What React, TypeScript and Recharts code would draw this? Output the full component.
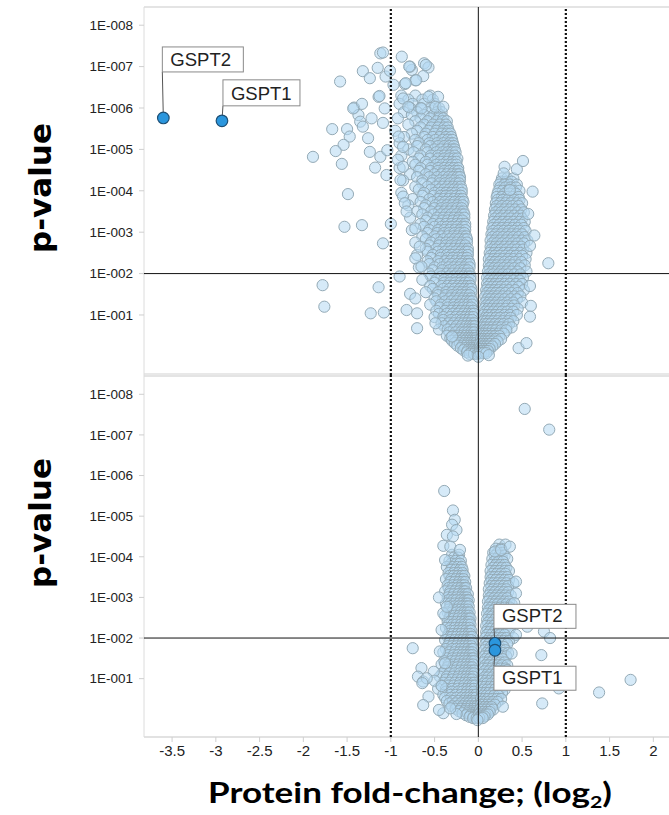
import React from 'react';
import { ScatterChart, Scatter, XAxis, YAxis, ReferenceLine } from 'recharts';

// Values: x = protein fold-change (log2), y = -log10(p-value)
type Row = [number, number[]]; // [-log10 p, fold-change values at that height]
type Pair = [number, number]; // [fold-change, -log10 p]

const X_TICKS = [-3.5, -3, -2.5, -2, -1.5, -1, -0.5, 0, 0.5, 1, 1.5, 2];
const Y_TICKS = [8, 7, 6, 5, 4, 3, 2, 1];
const Y_TICK_LABELS = ['1E-008', '1E-007', '1E-006', '1E-005', '1E-004', '1E-003', '1E-002', '1E-001'];
const FOLD_CUTOFFS = [-1, 1];
const ZERO_FOLD = 0;
const P_CUTOFF = 2; // p = 1E-002

const X_DOMAIN: [number, number] = [-3.821, 2.179];
const TOP_Y_DOMAIN: [number, number] = [-0.45, 8.44];
const BOTTOM_Y_DOMAIN: [number, number] = [-0.436, 8.475];

// ---------- top panel ----------
const TOP_LEFT_ARM: Row[] = [
  [6.3, [-0.88, -0.72, -0.55]],
  [6.2, [-0.8, -0.64, -0.52]],
  [6.1, [-0.9, -0.75, -0.62, -0.5]],
  [6.0, [-0.78, -0.66, -0.54, -0.45]],
  [5.9, [-0.85, -0.7, -0.58, -0.47, -0.42]],
  [5.83, [-0.76, -0.62, -0.51, -0.44]],
  [5.75, [-0.92, -0.66, -0.55, -0.45, -0.4]],
  [5.68, [-0.72, -0.58, -0.48, -0.41, -0.36]],
  [5.6, [-0.8, -0.62, -0.52, -0.44, -0.37]],
  [5.53, [-0.66, -0.54, -0.46, -0.39, -0.35]],
  [5.45, [-0.95, -0.7, -0.57, -0.48, -0.4, -0.34]],
  [5.38, [-0.76, -0.6, -0.5, -0.42, -0.36, -0.32]],
  [5.3, [-0.85, -0.62, -0.52, -0.44, -0.37, -0.31]],
  [5.23, [-0.72, -0.58, -0.49, -0.41, -0.35, -0.3]],
  [5.15, [-0.9, -0.68, -0.56, -0.47, -0.4, -0.33, -0.29]],
  [5.08, [-0.7, -0.55, -0.46, -0.39, -0.33, -0.28]],
  [5.0, [-0.8, -0.6, -0.5, -0.43, -0.36, -0.3, -0.27]],
  [4.93, [-0.74, -0.58, -0.48, -0.41, -0.35, -0.3, -0.26]],
  [4.85, [-0.88, -0.66, -0.54, -0.46, -0.39, -0.33, -0.27]],
  [4.78, [-0.68, -0.55, -0.46, -0.39, -0.33, -0.28, -0.24]],
  [4.7, [-0.75, -0.6, -0.5, -0.43, -0.36, -0.3, -0.25]],
  [4.63, [-0.72, -0.58, -0.48, -0.41, -0.35, -0.3, -0.25]],
  [4.55, [-0.9, -0.66, -0.54, -0.46, -0.39, -0.33, -0.28, -0.23]],
  [4.48, [-0.68, -0.55, -0.46, -0.39, -0.33, -0.27, -0.23]],
  [4.4, [-0.78, -0.6, -0.5, -0.42, -0.36, -0.3, -0.25, -0.22]],
  [4.33, [-0.7, -0.56, -0.47, -0.4, -0.34, -0.29, -0.24, -0.21]],
  [4.25, [-0.86, -0.64, -0.52, -0.44, -0.38, -0.32, -0.27, -0.21]],
  [4.18, [-0.64, -0.53, -0.44, -0.38, -0.32, -0.26, -0.22]],
  [4.1, [-0.72, -0.58, -0.48, -0.41, -0.35, -0.29, -0.24, -0.2]],
  [4.03, [-0.68, -0.54, -0.45, -0.39, -0.33, -0.28, -0.23, -0.19]],
  [3.95, [-0.88, -0.62, -0.5, -0.43, -0.37, -0.31, -0.26, -0.19]],
  [3.88, [-0.64, -0.51, -0.43, -0.37, -0.31, -0.25, -0.2]],
  [3.8, [-0.75, -0.56, -0.46, -0.4, -0.34, -0.28, -0.22, -0.18]],
  [3.73, [-0.66, -0.52, -0.44, -0.38, -0.32, -0.27, -0.21, -0.17]],
  [3.65, [-0.8, -0.6, -0.49, -0.42, -0.36, -0.3, -0.24, -0.18]],
  [3.58, [-0.62, -0.5, -0.42, -0.36, -0.3, -0.24, -0.19]],
  [3.5, [-0.7, -0.54, -0.45, -0.39, -0.33, -0.27, -0.21, -0.17]],
  [3.43, [-0.64, -0.51, -0.43, -0.37, -0.31, -0.25, -0.19, -0.16]],
  [3.35, [-0.78, -0.58, -0.47, -0.4, -0.34, -0.28, -0.22, -0.16]],
  [3.28, [-0.6, -0.49, -0.41, -0.35, -0.29, -0.23, -0.18]],
  [3.2, [-0.66, -0.52, -0.44, -0.37, -0.31, -0.25, -0.2, -0.15]],
  [3.13, [-0.62, -0.5, -0.42, -0.36, -0.3, -0.24, -0.18, -0.15]],
  [3.05, [-0.76, -0.56, -0.46, -0.39, -0.33, -0.27, -0.21, -0.15]],
  [2.98, [-0.58, -0.47, -0.39, -0.33, -0.27, -0.21, -0.16]],
  [2.9, [-0.64, -0.5, -0.42, -0.35, -0.29, -0.24, -0.18, -0.14]],
  [2.83, [-0.6, -0.48, -0.4, -0.33, -0.27, -0.22, -0.16, -0.13]],
  [2.75, [-0.72, -0.54, -0.44, -0.37, -0.31, -0.25, -0.19, -0.13]],
  [2.68, [-0.56, -0.45, -0.37, -0.31, -0.25, -0.2, -0.15]],
  [2.6, [-0.6, -0.48, -0.4, -0.34, -0.28, -0.22, -0.17, -0.12]],
  [2.53, [-0.58, -0.46, -0.38, -0.32, -0.26, -0.2, -0.15, -0.12]],
  [2.45, [-0.7, -0.52, -0.43, -0.36, -0.3, -0.24, -0.18, -0.12]],
  [2.38, [-0.54, -0.43, -0.35, -0.29, -0.23, -0.18, -0.13]],
  [2.3, [-0.58, -0.46, -0.38, -0.32, -0.26, -0.2, -0.15, -0.11]],
  [2.23, [-0.56, -0.44, -0.36, -0.3, -0.24, -0.19, -0.13, -0.1]],
  [2.15, [-0.68, -0.5, -0.41, -0.34, -0.28, -0.22, -0.16, -0.1]],
  [2.08, [-0.52, -0.41, -0.33, -0.27, -0.21, -0.16, -0.12]],
  [2.0, [-0.56, -0.44, -0.36, -0.3, -0.24, -0.19, -0.14, -0.1]],
  [1.93, [-0.54, -0.42, -0.34, -0.28, -0.22, -0.17, -0.12, -0.09]],
  [1.85, [-0.64, -0.48, -0.39, -0.32, -0.26, -0.2, -0.15, -0.09]],
  [1.78, [-0.5, -0.39, -0.32, -0.26, -0.2, -0.15, -0.11]],
  [1.7, [-0.55, -0.42, -0.35, -0.29, -0.23, -0.18, -0.13, -0.09]],
  [1.63, [-0.52, -0.4, -0.33, -0.27, -0.21, -0.16, -0.11, -0.08]],
  [1.55, [-0.6, -0.46, -0.37, -0.3, -0.24, -0.19, -0.14, -0.08]],
  [1.48, [-0.46, -0.37, -0.3, -0.24, -0.19, -0.14, -0.1]],
  [1.4, [-0.5, -0.4, -0.33, -0.27, -0.22, -0.17, -0.12, -0.08]],
  [1.33, [-0.48, -0.38, -0.31, -0.25, -0.19, -0.14, -0.1, -0.07]],
  [1.25, [-0.55, -0.43, -0.35, -0.28, -0.22, -0.17, -0.12, -0.07]],
  [1.18, [-0.44, -0.35, -0.28, -0.22, -0.17, -0.12, -0.08]],
  [1.1, [-0.48, -0.38, -0.31, -0.25, -0.2, -0.15, -0.1, -0.06]],
  [1.03, [-0.45, -0.36, -0.29, -0.23, -0.17, -0.12, -0.08, -0.05]],
  [0.95, [-0.5, -0.4, -0.32, -0.26, -0.2, -0.15, -0.1, -0.06]],
  [0.88, [-0.4, -0.31, -0.25, -0.19, -0.15, -0.11, -0.07]],
  [0.8, [-0.42, -0.34, -0.28, -0.22, -0.17, -0.13, -0.09, -0.05]],
  [0.73, [-0.39, -0.31, -0.25, -0.19, -0.14, -0.1, -0.07, -0.04]],
  [0.65, [-0.45, -0.35, -0.28, -0.22, -0.17, -0.12, -0.08, -0.05]],
  [0.58, [-0.33, -0.26, -0.2, -0.16, -0.12, -0.08, -0.05]],
  [0.5, [-0.36, -0.29, -0.23, -0.18, -0.14, -0.1, -0.07, -0.04]],
  [0.44, [-0.32, -0.26, -0.21, -0.16, -0.12, -0.09, -0.06, -0.03]],
  [0.38, [-0.3, -0.24, -0.19, -0.15, -0.11, -0.08, -0.05, -0.03]],
  [0.32, [-0.27, -0.21, -0.16, -0.12, -0.09, -0.06, -0.03]],
  [0.26, [-0.24, -0.18, -0.14, -0.1, -0.07, -0.04, -0.02]],
  [0.2, [-0.2, -0.15, -0.1, -0.07, -0.04, -0.01]],
  [0.15, [-0.17, -0.12, -0.08, -0.05, -0.02]],
  [0.1, [-0.13, -0.08, -0.04, -0.01]],
  [0.06, [-0.1, -0.05, -0.01]],
];

const TOP_RIGHT_ARM: Row[] = [
  [4.3, [0.27, 0.33, 0.4]],
  [4.22, [0.26, 0.32, 0.38]],
  [4.15, [0.24, 0.3, 0.36, 0.44]],
  [4.08, [0.25, 0.31, 0.37, 0.43]],
  [4.0, [0.23, 0.28, 0.34, 0.4, 0.47]],
  [3.93, [0.22, 0.3, 0.36, 0.43]],
  [3.85, [0.21, 0.27, 0.33, 0.39, 0.46]],
  [3.78, [0.22, 0.28, 0.34, 0.41, 0.47]],
  [3.7, [0.2, 0.25, 0.31, 0.37, 0.44, 0.5]],
  [3.63, [0.21, 0.27, 0.33, 0.39, 0.46]],
  [3.55, [0.19, 0.24, 0.3, 0.36, 0.42, 0.49]],
  [3.48, [0.2, 0.26, 0.32, 0.38, 0.45, 0.52]],
  [3.4, [0.18, 0.23, 0.29, 0.35, 0.41, 0.48]],
  [3.33, [0.19, 0.25, 0.31, 0.37, 0.44, 0.5]],
  [3.25, [0.17, 0.22, 0.28, 0.34, 0.4, 0.47, 0.53]],
  [3.18, [0.18, 0.24, 0.3, 0.36, 0.42, 0.49]],
  [3.1, [0.16, 0.21, 0.27, 0.33, 0.39, 0.45, 0.52]],
  [3.03, [0.17, 0.23, 0.29, 0.35, 0.41, 0.47, 0.54]],
  [2.95, [0.15, 0.2, 0.26, 0.32, 0.38, 0.44, 0.5]],
  [2.88, [0.16, 0.22, 0.28, 0.34, 0.4, 0.46, 0.53]],
  [2.8, [0.14, 0.19, 0.25, 0.31, 0.37, 0.43, 0.5, 0.56]],
  [2.73, [0.16, 0.21, 0.27, 0.33, 0.39, 0.45, 0.52]],
  [2.65, [0.14, 0.19, 0.24, 0.3, 0.36, 0.42, 0.49]],
  [2.58, [0.15, 0.2, 0.26, 0.32, 0.38, 0.44, 0.51]],
  [2.5, [0.13, 0.18, 0.23, 0.29, 0.35, 0.41, 0.48, 0.55]],
  [2.43, [0.14, 0.19, 0.25, 0.31, 0.37, 0.43, 0.5]],
  [2.35, [0.12, 0.17, 0.22, 0.28, 0.34, 0.4, 0.47, 0.54]],
  [2.28, [0.14, 0.19, 0.24, 0.3, 0.36, 0.42, 0.49]],
  [2.2, [0.12, 0.16, 0.21, 0.27, 0.33, 0.39, 0.46, 0.53]],
  [2.13, [0.13, 0.18, 0.23, 0.29, 0.35, 0.41, 0.48]],
  [2.05, [0.11, 0.16, 0.21, 0.26, 0.32, 0.38, 0.45, 0.55]],
  [1.98, [0.12, 0.17, 0.23, 0.28, 0.34, 0.41, 0.48]],
  [1.9, [0.1, 0.15, 0.2, 0.25, 0.31, 0.37, 0.44, 0.51]],
  [1.83, [0.12, 0.17, 0.22, 0.27, 0.33, 0.4, 0.47]],
  [1.75, [0.1, 0.14, 0.19, 0.24, 0.3, 0.36, 0.43, 0.5]],
  [1.68, [0.11, 0.16, 0.21, 0.26, 0.32, 0.39, 0.46]],
  [1.6, [0.09, 0.13, 0.18, 0.23, 0.29, 0.35, 0.42, 0.52]],
  [1.53, [0.1, 0.15, 0.2, 0.25, 0.31, 0.38, 0.45]],
  [1.45, [0.08, 0.12, 0.17, 0.22, 0.28, 0.34, 0.41, 0.48]],
  [1.38, [0.1, 0.14, 0.19, 0.24, 0.3, 0.37, 0.44]],
  [1.3, [0.08, 0.12, 0.16, 0.21, 0.27, 0.33, 0.4, 0.5]],
  [1.23, [0.09, 0.13, 0.18, 0.23, 0.28, 0.34, 0.41]],
  [1.15, [0.07, 0.11, 0.15, 0.2, 0.25, 0.31, 0.38, 0.45]],
  [1.08, [0.08, 0.12, 0.17, 0.22, 0.27, 0.33, 0.4]],
  [1.0, [0.06, 0.1, 0.14, 0.19, 0.24, 0.3, 0.36, 0.44]],
  [0.93, [0.08, 0.11, 0.15, 0.2, 0.25, 0.31, 0.37]],
  [0.85, [0.06, 0.09, 0.13, 0.17, 0.22, 0.28, 0.34, 0.4]],
  [0.78, [0.07, 0.1, 0.14, 0.19, 0.24, 0.29, 0.35]],
  [0.7, [0.05, 0.08, 0.12, 0.16, 0.21, 0.26, 0.32, 0.38]],
  [0.63, [0.06, 0.09, 0.12, 0.16, 0.2, 0.26, 0.32]],
  [0.55, [0.04, 0.07, 0.1, 0.14, 0.18, 0.23, 0.29]],
  [0.49, [0.05, 0.08, 0.11, 0.15, 0.19, 0.24]],
  [0.42, [0.03, 0.06, 0.09, 0.12, 0.16, 0.2, 0.26]],
  [0.36, [0.04, 0.07, 0.1, 0.13, 0.17, 0.22]],
  [0.3, [0.02, 0.05, 0.08, 0.11, 0.14, 0.19]],
  [0.24, [0.03, 0.06, 0.09, 0.12, 0.16]],
  [0.18, [0.02, 0.04, 0.07, 0.1, 0.13]],
  [0.13, [0.02, 0.05, 0.08, 0.11]],
  [0.08, [0.01, 0.03, 0.06, 0.09]],
];

const TOP_SCATTERED: Pair[] = [
  [-1.12, 7.32], [-1.09, 7.34], [-0.875, 7.24], [-1.32, 6.89], [-1.15, 6.97], [-1.24, 6.72],
  [-1.06, 6.76], [-1.01, 6.9], [-0.76, 6.92], [-0.78, 7.0], [-0.62, 7.08], [-0.57, 6.98],
  [-0.63, 6.77], [-0.72, 6.67], [-0.84, 6.58], [-0.97, 6.56], [-1.58, 6.64], [-1.14, 6.27],
  [-1.42, 6.01], [-1.33, 6.1], [-1.22, 5.75], [-1.09, 5.64], [-1.37, 5.83], [-1.35, 5.67],
  [-1.32, 5.55], [-1.67, 5.49], [-1.5, 5.49], [-1.47, 5.31], [-1.54, 5.11], [-1.63, 4.96],
  [-1.56, 4.65], [-1.89, 4.82], [-1.26, 5.27], [-1.24, 4.94], [-1.18, 4.56], [-1.12, 4.82],
  [-1.04, 4.98], [-1.05, 4.38], [-1.49, 3.92], [-1.53, 3.13], [-1.33, 3.17], [-1.0, 3.2],
  [-1.09, 2.73], [-1.78, 1.72], [-1.76, 1.2], [-1.14, 1.67], [-1.23, 1.04], [-1.08, 1.06],
  [-0.9, 1.93], [-0.78, 1.51], [-0.72, 1.4], [-0.82, 1.12], [-0.7, 1.04], [-0.7, 0.68],
  [-0.49, 0.8], [-0.3, 0.48],
  [-0.79, 7.0], [-0.71, 6.67], [-0.6, 7.04], [-0.83, 6.6], [-1.13, 6.29], [-1.43, 5.99],
  [-1.07, 5.99], [-0.86, 6.23], [-0.8, 6.03], [-0.65, 5.99], [-0.57, 6.27], [-0.46, 6.27],
  [-0.49, 6.03], [-0.4, 6.03], [-0.91, 5.31], [-0.86, 5.06], [-0.92, 4.75], [-0.86, 4.58],
  [-0.89, 4.26], [-0.86, 3.86], [-0.84, 3.7], [-0.82, 3.5], [-0.72, 3.09], [-0.67, 2.65],
  [-0.72, 2.37], [-0.65, 2.17], [-0.12, 0.02], [0.0, -0.01], [0.12, 0.03],
  [0.3, 4.58], [0.44, 4.52], [0.51, 4.72], [0.29, 4.42], [0.62, 3.98], [0.36, 4.02],
  [0.57, 3.44], [0.64, 2.92], [0.59, 2.67], [0.8, 2.25], [0.59, 1.7], [0.6, 1.22],
  [0.59, 0.96], [0.46, 0.2], [0.55, 0.32],
];

const TOP_HIGHLIGHTS = [
  { gene: 'GSPT2', x: -3.6, y: 5.76 },
  { gene: 'GSPT1', x: -2.93, y: 5.69 },
];

// ---------- bottom panel ----------
const BOTTOM_LEFT_ARM: Row[] = [
  [4.05, [-0.3, -0.22]],
  [3.98, [-0.28, -0.23]],
  [3.9, [-0.33, -0.26, -0.2]],
  [3.83, [-0.31, -0.25, -0.21]],
  [3.75, [-0.36, -0.3, -0.24, -0.19]],
  [3.68, [-0.31, -0.26, -0.21, -0.18]],
  [3.6, [-0.34, -0.28, -0.23, -0.18]],
  [3.53, [-0.33, -0.28, -0.23, -0.19, -0.16]],
  [3.45, [-0.37, -0.31, -0.26, -0.21, -0.17]],
  [3.38, [-0.32, -0.27, -0.22, -0.18, -0.15]],
  [3.3, [-0.35, -0.29, -0.24, -0.19, -0.16]],
  [3.23, [-0.34, -0.29, -0.24, -0.2, -0.16, -0.14]],
  [3.15, [-0.38, -0.32, -0.27, -0.22, -0.17, -0.15]],
  [3.08, [-0.33, -0.28, -0.23, -0.18, -0.15, -0.12]],
  [3.0, [-0.35, -0.3, -0.25, -0.2, -0.16, -0.13]],
  [2.93, [-0.34, -0.29, -0.25, -0.2, -0.16, -0.13, -0.11]],
  [2.85, [-0.37, -0.32, -0.27, -0.22, -0.18, -0.14, -0.12]],
  [2.78, [-0.32, -0.27, -0.22, -0.18, -0.14, -0.11]],
  [2.7, [-0.34, -0.29, -0.24, -0.2, -0.16, -0.12]],
  [2.63, [-0.35, -0.3, -0.25, -0.2, -0.16, -0.13, -0.1]],
  [2.55, [-0.38, -0.32, -0.27, -0.22, -0.18, -0.14, -0.11]],
  [2.48, [-0.33, -0.28, -0.23, -0.18, -0.14, -0.11, -0.09]],
  [2.4, [-0.35, -0.3, -0.25, -0.2, -0.16, -0.12, -0.1]],
  [2.33, [-0.34, -0.29, -0.25, -0.2, -0.16, -0.12, -0.09]],
  [2.25, [-0.37, -0.32, -0.27, -0.22, -0.18, -0.14, -0.1]],
  [2.18, [-0.32, -0.27, -0.22, -0.18, -0.14, -0.1, -0.08]],
  [2.1, [-0.34, -0.29, -0.24, -0.2, -0.16, -0.12, -0.09]],
  [2.03, [-0.35, -0.3, -0.25, -0.2, -0.16, -0.12, -0.09, -0.07]],
  [1.95, [-0.38, -0.32, -0.27, -0.22, -0.18, -0.14, -0.1, -0.08]],
  [1.88, [-0.33, -0.28, -0.23, -0.18, -0.14, -0.1, -0.07]],
  [1.8, [-0.35, -0.3, -0.25, -0.2, -0.16, -0.12, -0.08]],
  [1.73, [-0.37, -0.3, -0.25, -0.2, -0.16, -0.12, -0.08, -0.06]],
  [1.65, [-0.4, -0.33, -0.27, -0.22, -0.18, -0.14, -0.1, -0.07]],
  [1.58, [-0.34, -0.28, -0.23, -0.18, -0.14, -0.1, -0.07]],
  [1.5, [-0.36, -0.3, -0.25, -0.2, -0.16, -0.12, -0.08, -0.06]],
  [1.43, [-0.39, -0.31, -0.26, -0.21, -0.16, -0.12, -0.08, -0.05]],
  [1.35, [-0.42, -0.34, -0.28, -0.23, -0.18, -0.14, -0.1, -0.06]],
  [1.28, [-0.35, -0.29, -0.24, -0.19, -0.14, -0.1, -0.07]],
  [1.2, [-0.38, -0.31, -0.26, -0.21, -0.16, -0.12, -0.08, -0.05]],
  [1.13, [-0.41, -0.33, -0.27, -0.21, -0.16, -0.12, -0.08, -0.05]],
  [1.05, [-0.44, -0.36, -0.29, -0.23, -0.18, -0.14, -0.1, -0.06]],
  [0.98, [-0.37, -0.3, -0.24, -0.19, -0.14, -0.1, -0.07]],
  [0.9, [-0.4, -0.33, -0.27, -0.21, -0.16, -0.12, -0.08, -0.05]],
  [0.83, [-0.42, -0.34, -0.28, -0.22, -0.16, -0.11, -0.07, -0.04]],
  [0.75, [-0.46, -0.37, -0.3, -0.24, -0.18, -0.13, -0.09, -0.05]],
  [0.68, [-0.37, -0.3, -0.23, -0.18, -0.13, -0.09, -0.05]],
  [0.6, [-0.4, -0.32, -0.26, -0.2, -0.15, -0.1, -0.06, -0.03]],
  [0.53, [-0.38, -0.31, -0.25, -0.19, -0.14, -0.1, -0.06, -0.03]],
  [0.45, [-0.36, -0.29, -0.23, -0.17, -0.12, -0.08, -0.04]],
  [0.39, [-0.33, -0.26, -0.2, -0.15, -0.11, -0.07, -0.03]],
  [0.32, [-0.3, -0.24, -0.18, -0.13, -0.09, -0.05, -0.02]],
  [0.26, [-0.26, -0.2, -0.14, -0.1, -0.06, -0.03]],
  [0.2, [-0.22, -0.16, -0.11, -0.07, -0.03]],
  [0.15, [-0.18, -0.12, -0.07, -0.04, -0.01]],
  [0.1, [-0.14, -0.09, -0.05, -0.02]],
  [0.06, [-0.1, -0.05, -0.01]],
  [0.03, [-0.06, -0.02]],
];

const BOTTOM_RIGHT_ARM: Row[] = [
  [4.3, [0.24, 0.31]],
  [4.2, [0.2, 0.26]],
  [4.1, [0.17, 0.22, 0.28]],
  [4.03, [0.19, 0.24, 0.3]],
  [3.95, [0.16, 0.21, 0.27, 0.33]],
  [3.88, [0.18, 0.23, 0.28]],
  [3.8, [0.15, 0.2, 0.25, 0.3]],
  [3.73, [0.17, 0.22, 0.27, 0.32]],
  [3.65, [0.14, 0.19, 0.24, 0.3, 0.35]],
  [3.58, [0.16, 0.21, 0.26, 0.31]],
  [3.5, [0.14, 0.18, 0.23, 0.28, 0.33]],
  [3.43, [0.15, 0.2, 0.25, 0.3, 0.35]],
  [3.35, [0.13, 0.17, 0.22, 0.27, 0.32, 0.4]],
  [3.28, [0.15, 0.19, 0.24, 0.29, 0.34]],
  [3.2, [0.12, 0.17, 0.22, 0.27, 0.32]],
  [3.13, [0.14, 0.19, 0.24, 0.29, 0.34]],
  [3.05, [0.12, 0.16, 0.21, 0.26, 0.31, 0.37]],
  [2.98, [0.13, 0.18, 0.23, 0.28, 0.33]],
  [2.9, [0.11, 0.16, 0.2, 0.25, 0.3, 0.35]],
  [2.83, [0.13, 0.18, 0.22, 0.27, 0.32, 0.38]],
  [2.75, [0.11, 0.15, 0.2, 0.25, 0.3, 0.36]],
  [2.68, [0.12, 0.17, 0.22, 0.27, 0.32]],
  [2.6, [0.1, 0.15, 0.19, 0.24, 0.29, 0.34]],
  [2.53, [0.12, 0.16, 0.21, 0.26, 0.31, 0.37]],
  [2.45, [0.1, 0.14, 0.19, 0.24, 0.29, 0.35]],
  [2.38, [0.11, 0.16, 0.21, 0.26, 0.31]],
  [2.3, [0.09, 0.14, 0.18, 0.23, 0.28, 0.33]],
  [2.23, [0.11, 0.15, 0.2, 0.25, 0.3, 0.36]],
  [2.15, [0.09, 0.13, 0.18, 0.23, 0.28, 0.34]],
  [2.08, [0.1, 0.15, 0.2, 0.25, 0.3]],
  [2.0, [0.08, 0.13, 0.17, 0.22, 0.27, 0.32, 0.4]],
  [1.93, [0.1, 0.14, 0.19, 0.24, 0.29, 0.35]],
  [1.85, [0.08, 0.12, 0.17, 0.22, 0.27, 0.33]],
  [1.78, [0.09, 0.14, 0.19, 0.24, 0.29]],
  [1.7, [0.07, 0.12, 0.16, 0.21, 0.26, 0.31]],
  [1.63, [0.09, 0.13, 0.18, 0.23, 0.28, 0.34]],
  [1.55, [0.07, 0.11, 0.16, 0.21, 0.26, 0.32]],
  [1.48, [0.08, 0.13, 0.18, 0.23, 0.28]],
  [1.4, [0.06, 0.11, 0.15, 0.2, 0.25, 0.3]],
  [1.33, [0.08, 0.12, 0.17, 0.22, 0.27, 0.33]],
  [1.25, [0.06, 0.1, 0.15, 0.2, 0.25, 0.31]],
  [1.18, [0.07, 0.12, 0.17, 0.22, 0.27]],
  [1.1, [0.05, 0.1, 0.14, 0.19, 0.24, 0.29]],
  [1.03, [0.07, 0.11, 0.16, 0.21, 0.26, 0.32]],
  [0.95, [0.05, 0.09, 0.14, 0.19, 0.24, 0.3]],
  [0.88, [0.06, 0.1, 0.15, 0.2, 0.25]],
  [0.8, [0.04, 0.08, 0.13, 0.18, 0.23, 0.28]],
  [0.73, [0.06, 0.1, 0.14, 0.19, 0.24, 0.3]],
  [0.65, [0.04, 0.08, 0.12, 0.17, 0.22, 0.27]],
  [0.58, [0.05, 0.09, 0.13, 0.18, 0.23]],
  [0.5, [0.03, 0.07, 0.11, 0.16, 0.21, 0.26]],
  [0.43, [0.04, 0.08, 0.12, 0.17, 0.22]],
  [0.36, [0.03, 0.06, 0.1, 0.14, 0.19]],
  [0.3, [0.04, 0.07, 0.11, 0.15]],
  [0.24, [0.02, 0.05, 0.09, 0.13, 0.17]],
  [0.18, [0.03, 0.06, 0.1, 0.13]],
  [0.12, [0.01, 0.04, 0.08, 0.11]],
  [0.07, [0.02, 0.04, 0.07]],
  [0.03, [0.01, 0.05]],
];

const BOTTOM_SCATTERED: Pair[] = [
  [0.53, 7.64], [0.81, 7.13], [-0.39, 5.62], [-0.29, 5.14], [-0.27, 4.91], [-0.3, 4.79],
  [-0.25, 4.66], [-0.36, 4.54], [-0.29, 4.5], [-0.4, 4.27], [-0.32, 4.25], [-0.21, 4.17],
  [-0.38, 3.92], [-0.45, 3.0], [-0.4, 2.61], [-0.36, 2.77], [-0.42, 2.2], [-0.75, 1.75],
  [-0.44, 1.67], [-0.38, 1.38], [-0.65, 1.26], [-0.69, 1.05], [-0.63, 0.93], [-0.51, 1.17],
  [-0.5, 0.95], [-0.42, 0.82], [-0.57, 0.56], [-0.63, 0.35], [-0.4, 0.15], [-0.25, 0.13],
  [-0.32, 0.27], [-0.59, 1.01], [-0.64, 0.89], [-0.45, 0.23], [-0.01, -0.02],
  [0.19, 4.13], [0.26, 4.17], [0.36, 4.25], [0.43, 3.39], [0.43, 3.1], [0.41, 2.86],
  [0.43, 2.08], [0.75, 2.16], [0.82, 2.0], [0.72, 1.58], [0.38, 1.62], [1.38, 0.66],
  [1.74, 0.97], [0.73, 0.39], [0.92, 0.76], [0.33, 1.21], [0.28, 0.31], [0.56, 2.28],
];

const BOTTOM_HIGHLIGHTS = [
  { gene: 'GSPT2', x: 0.19, y: 1.87 },
  { gene: 'GSPT1', x: 0.19, y: 1.7 },
];

// callout box placement (styling only)
type Callout = { side: 'up' | 'down'; dx: number; gap: number; w: number; h: number };
const TOP_CALLOUTS: Record<string, Callout> = {
  GSPT2: { side: 'up', dx: -1, gap: 46, w: 81, h: 25 },
  GSPT1: { side: 'up', dx: 1, gap: 15, w: 77, h: 26 },
};
const BOTTOM_CALLOUTS: Record<string, Callout> = {
  GSPT2: { side: 'up', dx: -1, gap: 15, w: 82, h: 24 },
  GSPT1: { side: 'down', dx: -1, gap: 16, w: 82, h: 24 },
};

const toPoints = (rows: Row[], pairs: Pair[]) => {
  const pts: { x: number; y: number }[] = [];
  rows.forEach(([y, xs]) => xs.forEach((x) => pts.push({ x, y })));
  pairs.forEach(([x, y]) => pts.push({ x, y }));
  return pts;
};

const TOP_POINTS = toPoints(TOP_LEFT_ARM.concat(TOP_RIGHT_ARM), TOP_SCATTERED);
const BOTTOM_POINTS = toPoints(BOTTOM_LEFT_ARM.concat(BOTTOM_RIGHT_ARM), BOTTOM_SCATTERED);

const ARIAL = '"Liberation Sans", Arial, sans-serif';

const BgDot = (props: any) => {
  const { cx, cy } = props;
  if (cx == null || cy == null) return <g />;
  return (
    <circle cx={cx} cy={cy} r={5.6} fill="#b5d9f2" fillOpacity={0.55} stroke="#94aab6" strokeWidth={1} />
  );
};

const makeHighlight = (callouts: Record<string, Callout>) => (props: any) => {
  const { cx, cy, payload } = props;
  if (cx == null || cy == null) return <g />;
  const c = callouts[payload.gene];
  const bx = cx + c.dx;
  const by = c.side === 'up' ? cy - c.gap - c.h : cy + c.gap;
  const ly = c.side === 'up' ? cy - c.gap : cy + c.gap;
  return (
    <g>
      <line x1={bx} y1={ly} x2={cx} y2={cy} stroke="#555" strokeWidth={1} />
      <rect x={bx} y={by} width={c.w} height={c.h} fill="#ffffff" stroke="#8a8a8a" strokeWidth={1} />
      <text x={bx + 8} y={by + c.h - 6} fontFamily={ARIAL} fontSize={18.5} fill="#222">
        {payload.gene}
      </text>
      <circle cx={cx} cy={cy} r={5.8} fill="#2b96dd" stroke="#1d4f75" strokeWidth={1.2} />
    </g>
  );
};

const PValueTitle = (shift: number) => (props: any) => {
  const vb = props.viewBox || {};
  const cy = (vb.y || 0) + (vb.height || 0) / 2 + shift;
  const x = 51;
  return (
    <text
      x={x}
      y={cy}
      transform={`rotate(-90, ${x}, ${cy})`}
      textAnchor="middle"
      fontFamily='"DejaVu Sans", Verdana, sans-serif'
      fontWeight={700}
      fontSize={31}
      fill="#000"
    >
      p-value
    </text>
  );
};

const FoldTitle = (props: any) => {
  const vb = props.viewBox || {};
  const x = (vb.x || 0) + 64;
  const y = (vb.y || 0) + 66;
  return (
    <text
      x={x}
      y={y}
      fontFamily='Lato, "Open Sans", sans-serif'
      fontWeight={700}
      fontSize={28}
      fill="#000"
      textLength={404}
      lengthAdjust="spacingAndGlyphs"
    >
      Protein fold-change; (log
      <tspan dy={5} fontSize={17}>2</tspan>
      <tspan dy={-5}>)</tspan>
    </text>
  );
};

const yTickFormat = (v: number) => Y_TICK_LABELS[Y_TICKS.indexOf(v)] ?? '';

const guideLines = () => [
  <ReferenceLine key="p" y={P_CUTOFF} stroke="#111" strokeWidth={1} zIndex={700} />,
  <ReferenceLine key="z" x={ZERO_FOLD} stroke="#111" strokeWidth={1} zIndex={700} />,
  ...FOLD_CUTOFFS.map((f) => (
    <ReferenceLine key={`f${f}`} x={f} stroke="#111" strokeWidth={2.2} strokeDasharray="2 2" zIndex={700} />
  )),
];

function Panel(props: {
  points: { x: number; y: number }[];
  highlights: { gene: string; x: number; y: number }[];
  callouts: Record<string, Callout>;
  yDomain: [number, number];
  height: number;
  margin: { top: number; right: number; bottom: number; left: number };
  showXAxis: boolean;
  titleShift: number;
  topEdgeWidth: number;
  bottomEdgeWidth: number;
}) {
  const { points, highlights, callouts, yDomain, height, margin, showXAxis, titleShift, topEdgeWidth, bottomEdgeWidth } = props;
  return (
    <ScatterChart width={669} height={height} margin={margin} style={{ overflow: 'visible' }}>
      <XAxis
        dataKey="x"
        type="number"
        domain={X_DOMAIN}
        allowDataOverflow
        ticks={X_TICKS}
        interval={0}
        height={showXAxis ? 78 : 0}
        tick={showXAxis ? { fontSize: 15, fontFamily: ARIAL, fill: '#222' } : false}
        tickLine={showXAxis ? { stroke: '#cfcfcf' } : false}
        tickSize={5}
        tickMargin={3}
        axisLine={showXAxis ? { stroke: '#e2e2e2', strokeWidth: 2 } : false}
        label={showXAxis ? <FoldTitle /> : undefined}
      />
      <YAxis
        dataKey="y"
        type="number"
        domain={yDomain}
        allowDataOverflow
        ticks={Y_TICKS}
        interval={0}
        width={144}
        tickFormatter={yTickFormat}
        tick={{ fontSize: 13.5, fontFamily: ARIAL, fill: '#222' }}
        tickLine={{ stroke: '#cfcfcf' }}
        tickSize={5}
        tickMargin={6}
        axisLine={{ stroke: '#dcdcdc' }}
        label={{ content: PValueTitle(titleShift) }}
      />
      <ReferenceLine y={yDomain[1]} stroke="#e4e4e4" strokeWidth={topEdgeWidth} />
      {bottomEdgeWidth > 0 ? <ReferenceLine y={yDomain[0]} stroke="#e8e8e8" strokeWidth={bottomEdgeWidth} /> : null}
      <Scatter data={points} shape={BgDot} isAnimationActive={false} />
      {guideLines()}
      <Scatter data={highlights} shape={makeHighlight(callouts)} isAnimationActive={false} zIndex={800} />
    </ScatterChart>
  );
}

export default function App() {
  return (
    <div style={{ position: 'absolute', left: 0, top: 0, width: 669, height: 815, background: '#fff' }}>
      <div style={{ position: 'absolute', left: 0, top: 0 }}>
        <Panel
          points={TOP_POINTS}
          highlights={TOP_HIGHLIGHTS}
          callouts={TOP_CALLOUTS}
          yDomain={TOP_Y_DOMAIN}
          height={375}
          margin={{ top: 7, right: 0, bottom: 0, left: 0 }}
          showXAxis={false}
          titleShift={-3}
          topEdgeWidth={2}
          bottomEdgeWidth={4}
        />
      </div>
      <div style={{ position: 'absolute', left: 0, top: 375 }}>
        <Panel
          points={BOTTOM_POINTS}
          highlights={BOTTOM_HIGHLIGHTS}
          callouts={BOTTOM_CALLOUTS}
          yDomain={BOTTOM_Y_DOMAIN}
          height={440}
          margin={{ top: 0, right: 0, bottom: 0, left: 0 }}
          showXAxis={true}
          titleShift={-33}
          topEdgeWidth={4}
          bottomEdgeWidth={0}
        />
      </div>
    </div>
  );
}
